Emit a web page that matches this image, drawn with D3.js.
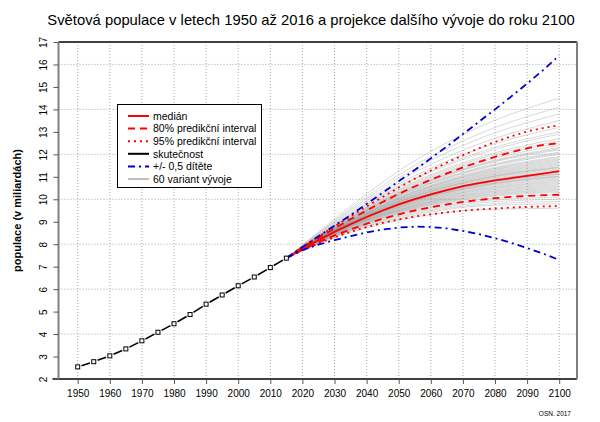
<!DOCTYPE html>
<html><head><meta charset="utf-8">
<script src="https://cdn.jsdelivr.net/npm/d3@7/dist/d3.min.js"></script>
<style>body{margin:0;background:#fff}svg{display:block}text{font-family:"Liberation Sans",Arial,sans-serif}</style>
</head><body>
<svg id="c" width="600" height="422"></svg>
<script>
const title = "Světová populace v letech 1950 až 2016 a projekce dalšího vývoje do roku 2100";
const yLabel = "populace (v miliardách)";
const source = "OSN. 2017";
const xTicks = [1950,1960,1970,1980,1990,2000,2010,2020,2030,2040,2050,2060,2070,2080,2090,2100];
const yTicks = [2,3,4,5,6,7,8,9,10,11,12,13,14,15,16,17];
const yGrid = [4,6,8,10,12,14,16];

const histYears = [1950,1955,1960,1965,1970,1975,1980,1985,1990,1995,2000,2005,2010,2015];
const histPop = [2.54,2.77,3.03,3.34,3.70,4.08,4.46,4.87,5.33,5.74,6.15,6.54,6.96,7.38];

const projYears = [2015,2020,2025,2030,2035,2040,2045,2050,2055,2060,2065,2070,2075,2080,2085,2090,2095,2100];
const median = [7.38,7.80,8.18,8.55,8.89,9.21,9.50,9.77,10.01,10.22,10.41,10.58,10.72,10.84,10.94,11.04,11.14,11.25];
const pi80lo = [7.38,7.75,8.09,8.39,8.66,8.91,9.13,9.33,9.50,9.64,9.77,9.88,9.97,10.05,10.11,10.15,10.18,10.20];
const pi80hi = [7.38,7.85,8.28,8.70,9.11,9.50,9.88,10.24,10.57,10.87,11.15,11.42,11.66,11.89,12.09,12.27,12.42,12.50];
const pi95lo = [7.38,7.72,8.04,8.31,8.55,8.76,8.95,9.10,9.23,9.33,9.42,9.49,9.55,9.59,9.63,9.66,9.68,9.70];
const pi95hi = [7.38,7.88,8.34,8.79,9.24,9.68,10.10,10.52,10.91,11.28,11.63,11.96,12.27,12.55,12.80,13.02,13.17,13.30];
const highVar = [7.38,7.87,8.35,8.83,9.29,9.79,10.29,10.80,11.30,11.82,12.35,12.90,13.45,14.00,14.57,15.15,15.75,16.40];
const lowVar = [7.38,7.74,7.98,8.18,8.36,8.52,8.65,8.74,8.78,8.77,8.70,8.59,8.45,8.27,8.06,7.83,7.58,7.30];

const variantYears = [2030,2050,2075,2100];
const variants = [
[8.28,9.06,9.53,9.60],[8.36,9.13,9.70,9.80],[8.33,9.19,9.76,9.90],[8.40,9.24,9.84,10.00],
[8.36,9.29,9.91,10.10],[8.41,9.33,9.99,10.20],[8.43,9.37,10.06,10.30],[8.38,9.40,10.10,10.35],
[8.45,9.42,10.14,10.40],[8.47,9.46,10.17,10.45],[8.44,9.46,10.21,10.50],[8.50,9.50,10.25,10.55],
[8.47,9.51,10.28,10.60],[8.52,9.53,10.32,10.65],[8.49,9.55,10.36,10.70],[8.53,9.58,10.40,10.75],
[8.50,9.60,10.43,10.80],[8.55,9.63,10.47,10.85],[8.52,9.64,10.51,10.90],[8.56,9.67,10.55,10.95],
[8.53,9.69,10.58,11.00],[8.57,9.71,10.60,11.02],[8.55,9.72,10.62,11.05],[8.58,9.74,10.66,11.10],
[8.54,9.75,10.68,11.12],[8.57,9.76,10.70,11.15],[8.56,9.78,10.73,11.20],[8.59,9.79,10.75,11.22],
[8.54,9.80,10.77,11.25],[8.58,9.82,10.81,11.30],[8.56,9.84,10.85,11.35],[8.60,9.87,10.88,11.40],
[8.57,9.88,10.90,11.42],[8.61,9.89,10.92,11.45],[8.59,9.92,10.96,11.50],[8.63,9.94,11.00,11.55],
[8.60,9.96,11.03,11.60],[8.64,9.98,11.07,11.65],[8.62,10.01,11.11,11.70],[8.66,10.03,11.15,11.75],
[8.63,10.05,11.18,11.80],[8.67,10.07,11.22,11.85],[8.65,10.10,11.26,11.90],[8.69,10.14,11.33,12.00],
[8.67,10.16,11.37,12.05],[8.71,10.19,11.41,12.10],[8.73,10.23,11.49,12.20],[8.70,10.25,11.52,12.25],
[8.75,10.28,11.56,12.30],[8.76,10.32,11.64,12.40],[8.74,10.36,11.71,12.50],[8.80,10.41,11.79,12.60],
[8.79,10.45,11.86,12.70],[8.84,10.54,12.01,12.90],[8.86,10.59,12.09,13.00],[8.90,10.68,12.24,13.20],
[8.95,10.81,12.46,13.50],[9.00,10.95,12.69,13.80],[9.05,11.08,12.91,14.10],[9.12,11.26,13.21,14.50]
];

const legendItems = [
  {label:"medián", color:"#ff0000", dash:null, w:2},
  {label:"80% predikční interval", color:"#ff0000", dash:"7,5", w:2},
  {label:"95% predikční interval", color:"#ff0000", dash:"2,4", w:2},
  {label:"skutečnost", color:"#000000", dash:null, w:2},
  {label:"+/- 0,5 dítěte", color:"#0000cc", dash:"7,4,2,4", w:2},
  {label:"60 variant vývoje", color:"#aaaaaa", dash:null, w:1.5}
];

const svg = d3.select("#c");
const L = 58.5, R = 577, T = 42, B = 379;
const x = d3.scaleLinear().domain([1950,2100]).range([77.7,559.2]);
const y = d3.scaleLinear().domain([2,17]).range([B,T]);

// grid
svg.append("g").selectAll("line").data(xTicks).join("line")
  .attr("x1",d=>x(d)).attr("x2",d=>x(d)).attr("y1",T).attr("y2",B)
  .attr("stroke","#a8a8a8").attr("stroke-width",1).attr("stroke-dasharray","1,2");
svg.append("g").selectAll("line").data(yGrid).join("line")
  .attr("x1",L).attr("x2",R).attr("y1",d=>y(d)).attr("y2",d=>y(d))
  .attr("stroke","#a8a8a8").attr("stroke-width",1).attr("stroke-dasharray","1,2");

const clip = svg.append("defs").append("clipPath").attr("id","pc").append("rect")
  .attr("x",L).attr("y",T).attr("width",R-L).attr("height",B-T);
const plot = svg.append("g").attr("clip-path","url(#pc)");

// variants
const vline = d3.line().x(d=>x(d[0])).y(d=>y(d[1])).curve(d3.curveMonotoneX);
const vYears = [histYears[histYears.length-1]].concat(variantYears);
variants.forEach(v=>{
  const pts = vYears.map((yr,i)=>[yr, i===0 ? histPop[histPop.length-1] : v[i-1]]);
  plot.append("path").attr("d",vline(pts)).attr("fill","none")
    .attr("stroke","#8c8c8c").attr("stroke-opacity",0.42).attr("stroke-width",0.8);
});

const line = d3.line().x(d=>x(d[0])).y(d=>y(d[1]));
function drawProj(vals, color, dash, w){
  const p = plot.append("path").attr("d",line(projYears.map((yr,i)=>[yr,vals[i]])))
    .attr("fill","none").attr("stroke",color).attr("stroke-width",w);
  if(dash) p.attr("stroke-dasharray",dash);
}
drawProj(pi95lo,"#ff0000","2,4",1.8);
drawProj(pi95hi,"#ff0000","2,4",1.8);
drawProj(pi80lo,"#ff0000","7,5",1.8);
drawProj(pi80hi,"#ff0000","7,5",1.8);
drawProj(median,"#ff0000",null,1.8);
drawProj(highVar,"#0000cc","7,4,2,4",1.8);
drawProj(lowVar,"#0000cc","7,4,2,4",1.8);

// history: type "b"
const hp = histYears.map((yr,i)=>[x(yr),y(histPop[i])]);
const gap = 4;
for(let i=0;i<hp.length-1;i++){
  const [x1,y1]=hp[i],[x2,y2]=hp[i+1];
  const dx=x2-x1, dy=y2-y1, len=Math.hypot(dx,dy);
  const ux=dx/len, uy=dy/len;
  plot.append("line").attr("x1",x1+ux*gap).attr("y1",y1+uy*gap)
    .attr("x2",x2-ux*gap).attr("y2",y2-uy*gap)
    .attr("stroke","#000").attr("stroke-width",1.6);
}
plot.selectAll("rect.pt").data(hp).join("rect").attr("class","pt")
  .attr("x",d=>d[0]-2).attr("y",d=>d[1]-2).attr("width",4).attr("height",4)
  .attr("fill","#fff").attr("stroke","#000").attr("stroke-width",1);

// frame
svg.append("line").attr("x1",L).attr("x2",R).attr("y1",T).attr("y2",T).attr("stroke","#000").attr("stroke-width",1.5);
svg.append("line").attr("x1",L-6).attr("x2",R).attr("y1",B).attr("y2",B).attr("stroke","#000").attr("stroke-width",1.5);
svg.append("line").attr("x1",L).attr("x2",L).attr("y1",T).attr("y2",B).attr("stroke","#808080").attr("stroke-width",2);
svg.append("line").attr("x1",R).attr("x2",R).attr("y1",T).attr("y2",B).attr("stroke","#808080").attr("stroke-width",2);

// axes
const xAxis = d3.axisBottom(x).tickValues(xTicks).tickSize(5).tickPadding(6).tickFormat(d3.format("d"));
const gx = svg.append("g").attr("transform",`translate(0,${B})`).call(xAxis);
gx.select(".domain").remove();
gx.selectAll(".tick line").attr("stroke","#555");
gx.selectAll("text").attr("font-size",10).attr("fill","#000").attr("font-family","'Liberation Sans',Arial,sans-serif");

const yAxis = d3.axisLeft(y).tickValues(yTicks).tickSize(5).tickFormat(d3.format("d"));
const gy = svg.append("g").attr("transform",`translate(${L},0)`).call(yAxis);
gy.select(".domain").remove();
gy.selectAll(".tick line").attr("stroke","#555");
gy.selectAll("text").attr("font-size",10).attr("fill","#000")
  .attr("font-family","'Liberation Sans',Arial,sans-serif")
  .attr("text-anchor","middle").attr("dy",null).attr("x",null)
  .attr("transform","translate(-11.5,0) rotate(-90)").attr("y",0);

// title
svg.append("text").attr("x",311).attr("y",25).attr("text-anchor","middle")
  .attr("font-size",14.8).text(title);
svg.append("text").attr("transform",`translate(21,${(T+B)/2}) rotate(-90)`)
  .attr("text-anchor","middle").attr("font-size",11).attr("font-weight","bold").text(yLabel);
svg.append("text").attr("x",571).attr("y",416).attr("text-anchor","end")
  .attr("font-size",6.5).text(source);

// legend
const lg = svg.append("g");
lg.append("rect").attr("x",117.5).attr("y",104.5).attr("width",144).attr("height",83)
  .attr("fill","#fff").attr("stroke","#000").attr("stroke-width",1);
legendItems.forEach((it,i)=>{
  const yy = 116 + i*12.6;
  const l = lg.append("line").attr("x1",128).attr("x2",149).attr("y1",yy).attr("y2",yy)
    .attr("stroke",it.color).attr("stroke-width",it.w);
  if(it.dash) l.attr("stroke-dasharray",it.dash);
  lg.append("text").attr("x",153).attr("y",yy+3.7).attr("font-size",10.5).text(it.label);
});
</script>
</body></html>
